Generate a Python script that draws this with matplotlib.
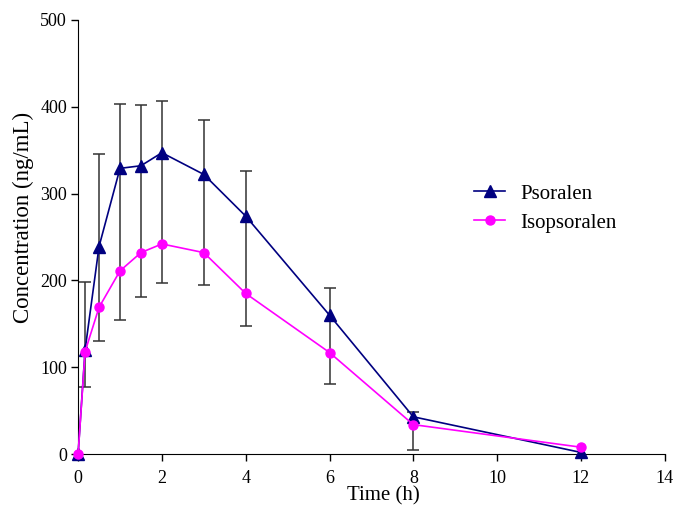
import matplotlib.pyplot as plt
import numpy as np

# sampling times (h)
time_h = [0, 0.167, 0.5, 1, 1.5, 2, 3, 4, 6, 8, 12]

# mean plasma concentration (ng/mL) and SD
psoralen = [0, 120, 239, 329, 332, 347, 322, 274, 160, 43, 2]
psoralen_sd = [0, 78, 106, 74, 70, 60, 63, 52, 31, 6, 0]
isopsoralen = [0, 118, 169, 211, 232, 242, 232, 185, 117, 34, 8]
isopsoralen_sd = [0, 41, 39, 57, 51, 45, 37, 38, 36, 29, 0]

C_PSO, C_ISO, C_ERR = "#000080", "#ff00ff", "#333333"

plt.rcParams.update({
    "font.family": "Liberation Serif", "font.size": 13,
    "xtick.labelsize": 13, "ytick.labelsize": 13,
})

fig = plt.figure(figsize=(6.79, 5.08), dpi=100)
ax = fig.add_axes([0.115, 0.106, 0.864, 0.855])

t = np.array(time_h)
p, ps = np.array(psoralen), np.array(psoralen_sd)
i, isd = np.array(isopsoralen), np.array(isopsoralen_sd)

# one bar per time point: from the isopsoralen lower SD up to the psoralen
# upper SD, capped only at those two ends (as in the original figure)
has_err = (ps > 0) | (isd > 0)
ax.vlines(t[has_err], (i - isd)[has_err], (p + ps)[has_err], color=C_ERR,
          lw=1.1, zorder=1)
ax.plot(t[ps > 0], (p + ps)[ps > 0], "_", color=C_ERR, ms=9, mew=1.1, zorder=1)
ax.plot(t[isd > 0], (i - isd)[isd > 0], "_", color=C_ERR, ms=9, mew=1.1, zorder=1)

ax.plot(t, p, color=C_PSO, marker="^", ms=8, lw=1.2, label="Psoralen",
        clip_on=False, zorder=3)
ax.plot(t, i, color=C_ISO, marker="o", ms=6.5, lw=1.2, label="Isopsoralen",
        clip_on=False, zorder=4)

ax.set_xlim(0, 14)
ax.set_ylim(0, 500)
ax.set_xticks(range(0, 15, 2))
ax.set_yticks(range(0, 501, 100))
ax.spines["top"].set_visible(False)
ax.spines["right"].set_visible(False)
ax.tick_params(direction="out", length=5, width=1)
ax.tick_params(axis="y", pad=3)
ax.tick_params(axis="x", pad=6.5)
ax.set_xlabel("Time (h)", fontsize=15)
ax.xaxis.set_label_coords(0.521, -0.074)
ax.set_ylabel("Concentration (ng/mL)", fontsize=16.5)
ax.yaxis.set_label_coords(-0.075, 0.545)

ax.legend(loc="upper left", bbox_to_anchor=(0.643, 0.665), frameon=False,
          fontsize=15, handlelength=1.5, handletextpad=0.7, labelspacing=0.45)

fig.savefig("out.png", dpi=100, facecolor="white")
